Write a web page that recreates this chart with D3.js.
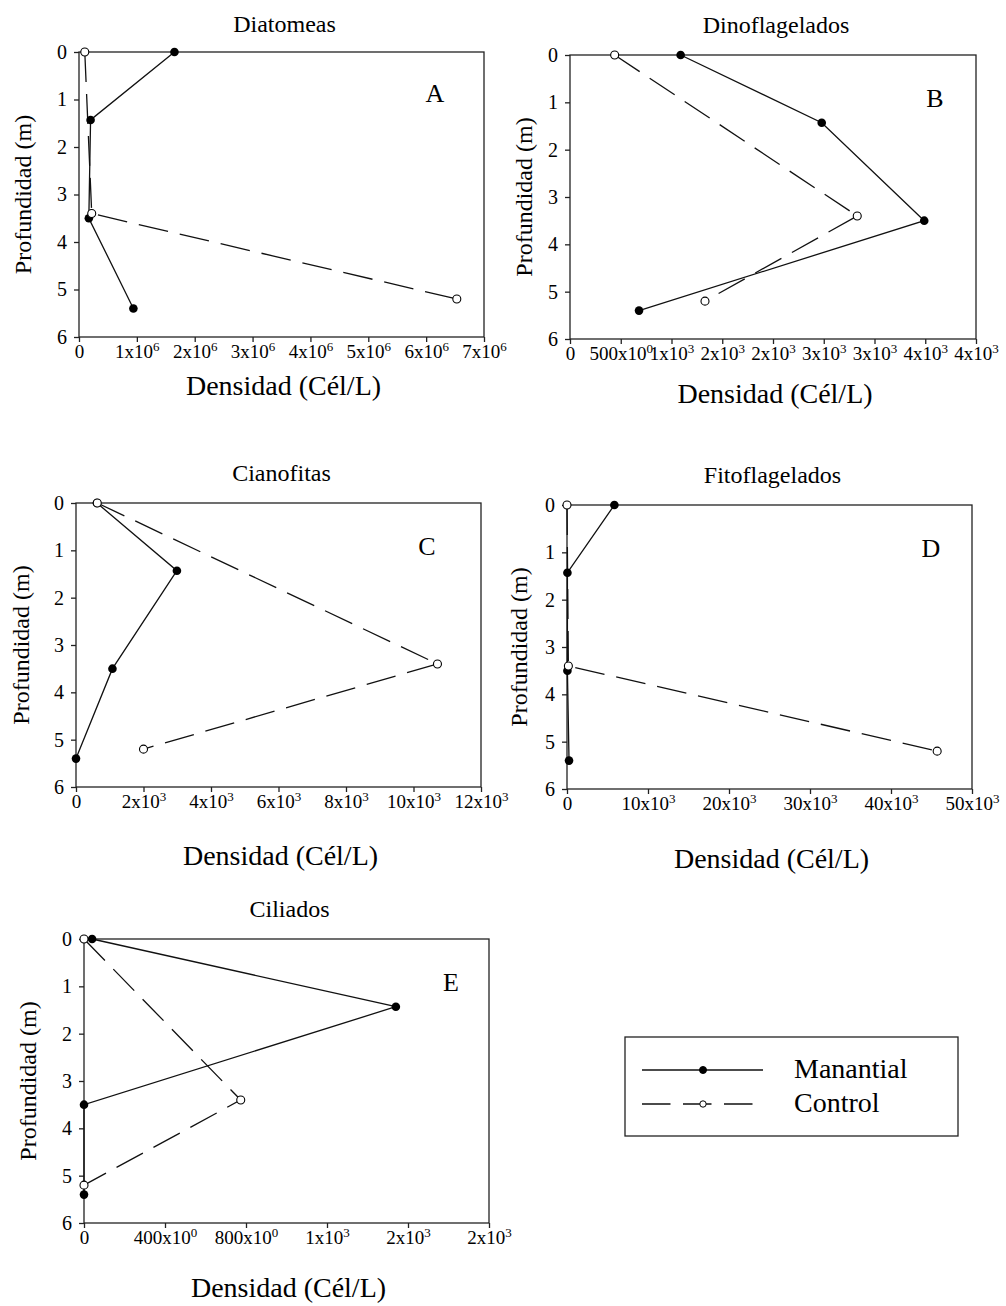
<!DOCTYPE html>
<html>
<head>
<meta charset="utf-8">
<script src="https://cdn.jsdelivr.net/npm/d3@7"></script>
<style>
  body { margin: 0; background: #fff; }
  text { font-family: "Liberation Serif", "Times New Roman", serif; fill: #000; }
</style>
</head>
<body>
<svg id="chart" width="1006" height="1306"></svg>
<script>
// sampling depths (m)
var depthManantial = [0, 1.43, 3.5, 5.4];
var depthControl = [0, 3.4, 5.2];

// densities (cel/L)
var diatManantial = [1.65e6, 0.2e6, 0.17e6, 0.94e6];
var diatControl = [0.1e6, 0.22e6, 6.53e6];
var dinoManantial = [1090, 2480, 3490, 680];
var dinoControl = [440, 2830, 1330];
var cianoManantial = [620, 2990, 1080, 0];
var cianoControl = [630, 10710, 2000];
var fitoManantial = [5850, 50, 50, 250];
var fitoControl = [0, 170, 45700];
var cilManantial = [40, 1540, 0, 0];
var cilControl = [0, 774, 0];

// x tick values per panel
var diatTicks = [0, 1e6, 2e6, 3e6, 4e6, 5e6, 6e6, 7e6];
var dinoTicks = [0, 500, 1000, 1500, 2000, 2500, 3000, 3500, 4000];
var cianoTicks = [0, 2000, 4000, 6000, 8000, 10000, 12000];
var fitoTicks = [0, 10000, 20000, 30000, 40000, 50000];
var cilTicks = [0, 400, 800, 1200, 1600, 2000];
var depthTicks = [0, 1, 2, 3, 4, 5, 6];

var titles = ["Diatomeas", "Dinoflagelados", "Cianofitas", "Fitoflagelados", "Ciliados"];
var letters = ["A", "B", "C", "D", "E"];
var exponents = [6, 3, 3, 3, 3];
var seriesNames = ["Manantial", "Control"];

var panels = [
  { man: diatManantial, ctl: diatControl, ticks: diatTicks },
  { man: dinoManantial, ctl: dinoControl, ticks: dinoTicks },
  { man: cianoManantial, ctl: cianoControl, ticks: cianoTicks },
  { man: fitoManantial, ctl: fitoControl, ticks: fitoTicks },
  { man: cilManantial, ctl: cilControl, ticks: cilTicks }
];

var layout = [
  { left: 79, top: 52, right: 484, bottom: 337, ylab: 23, xlab: 395, lx: 435, ly: 102, ty: 32 },
  { left: 570, top: 55, right: 976, bottom: 339, ylab: 524, xlab: 403, lx: 935, ly: 107, ty: 33 },
  { left: 76, top: 503, right: 481, bottom: 787, ylab: 21, xlab: 865, lx: 427, ly: 555, ty: 481 },
  { left: 567, top: 505, right: 972, bottom: 789, ylab: 519, xlab: 868, lx: 931, ly: 557, ty: 483 },
  { left: 84, top: 939, right: 489, bottom: 1223, ylab: 28, xlab: 1297, lx: 451, ly: 991, ty: 917 }
];

const svg = d3.select("#chart");
const ink = "#222";

function tickParts(v, e) {
  if (v === 0) return ["0", null];
  if (v < 1000) return [v + "x10", "0"];
  return [Math.round(v / Math.pow(10, e)) + "x10", String(e)];
}

panels.forEach(function(p, i) {
  var L = layout[i];

  var x = d3.scaleLinear().domain([0, d3.max(p.ticks)]).range([L.left, L.right]);
  var y = d3.scaleLinear().domain([0, 6]).range([L.top, L.bottom]);

  var g = svg.append("g").attr("class", "panel");

  g.append("rect")
    .attr("x", L.left)
    .attr("y", L.top)
    .attr("width", L.right - L.left)
    .attr("height", L.bottom - L.top)
    .attr("fill", "none")
    .attr("stroke", ink)
    .attr("stroke-width", 1.3);

  // bottom axis, with the odd SigmaPlot style labels
  var xa = g.append("g")
    .attr("transform", "translate(0," + L.bottom + ")")
    .call(d3.axisBottom(x).tickValues(p.ticks).tickSize(5).tickSizeOuter(0).tickPadding(3));
  xa.attr("font-size", 19).attr("font-family", null);
  xa.select(".domain").remove();
  xa.selectAll(".tick line").attr("stroke", ink).attr("stroke-width", 1.3);
  xa.selectAll(".tick text").each(function(d) {
    var parts = tickParts(d, exponents[i]);
    var t = d3.select(this).text(null);
    t.append("tspan").text(parts[0]);
    if (parts[1] !== null) {
      t.append("tspan").attr("dy", -7).attr("font-size", 13).text(parts[1]);
    }
  });

  var ya = g.append("g")
    .attr("transform", "translate(" + L.left + ",0)")
    .call(d3.axisLeft(y).tickValues(depthTicks).tickFormat(d3.format("d"))
      .tickSize(5).tickSizeOuter(0).tickPadding(7));
  ya.attr("font-size", 20).attr("font-family", null);
  ya.select(".domain").remove();
  ya.selectAll(".tick line").attr("stroke", ink).attr("stroke-width", 1.3);

  // titles and labels
  g.append("text")
    .attr("x", (L.left + L.right) / 2 + 3)
    .attr("y", L.ty)
    .attr("text-anchor", "middle")
    .attr("font-size", 24)
    .text(titles[i]);

  g.append("text")
    .attr("x", L.lx)
    .attr("y", L.ly)
    .attr("text-anchor", "middle")
    .attr("font-size", 26)
    .text(letters[i]);

  g.append("text")
    .attr("x", (L.left + L.right) / 2 + 2)
    .attr("y", L.xlab)
    .attr("text-anchor", "middle")
    .attr("font-size", 28)
    .text("Densidad (Cél/L)");

  g.append("text")
    .attr("transform", "translate(" + (L.ylab + 8) + "," + ((L.top + L.bottom) / 2) + ") rotate(-90)")
    .attr("text-anchor", "middle")
    .attr("font-size", 24)
    .text("Profundidad (m)");

  var line = d3.line()
    .x(function(d) { return x(d[0]); })
    .y(function(d) { return y(d[1]); });

  var manData = d3.zip(p.man, depthManantial);
  var ctlData = d3.zip(p.ctl, depthControl);

  g.append("path")
    .datum(manData)
    .attr("d", line)
    .attr("fill", "none")
    .attr("stroke", "#111")
    .attr("stroke-width", 1.3);

  g.append("path")
    .datum(ctlData)
    .attr("d", line)
    .attr("fill", "none")
    .attr("stroke", "#111")
    .attr("stroke-width", 1.3)
    .attr("stroke-dasharray", "30,12");

  g.selectAll(".dot-man")
    .data(manData)
    .enter().append("circle")
    .attr("class", "dot-man")
    .attr("cx", function(d) { return x(d[0]); })
    .attr("cy", function(d) { return y(d[1]); })
    .attr("r", 4.3)
    .attr("fill", "#000");

  g.selectAll(".dot-ctl")
    .data(ctlData)
    .enter().append("circle")
    .attr("class", "dot-ctl")
    .attr("cx", function(d) { return x(d[0]); })
    .attr("cy", function(d) { return y(d[1]); })
    .attr("r", 4)
    .attr("fill", "#fff")
    .attr("stroke", "#000")
    .attr("stroke-width", 1.1);
});

// legend
var leg = svg.append("g").attr("class", "legend");
leg.append("rect")
  .attr("x", 625)
  .attr("y", 1037)
  .attr("width", 333)
  .attr("height", 99)
  .attr("fill", "none")
  .attr("stroke", ink)
  .attr("stroke-width", 1.3);

var legRows = [
  { y: 1070, dash: null, fill: "#000", r: 3.5 },
  { y: 1104, dash: "28.5,12.5", fill: "#fff", r: 3.2 }
];

legRows.forEach(function(row, k) {
  leg.append("line")
    .attr("x1", 642)
    .attr("x2", k === 0 ? 763 : 752.5)
    .attr("y1", row.y)
    .attr("y2", row.y)
    .attr("stroke", "#111")
    .attr("stroke-width", 1.3)
    .attr("stroke-dasharray", row.dash);
  leg.append("circle")
    .attr("cx", 703)
    .attr("cy", row.y)
    .attr("r", row.r)
    .attr("fill", row.fill)
    .attr("stroke", "#000")
    .attr("stroke-width", 1);
  leg.append("text")
    .attr("x", 794)
    .attr("y", row.y + 8)
    .attr("font-size", 28)
    .text(seriesNames[k]);
});
</script>
</body>
</html>
